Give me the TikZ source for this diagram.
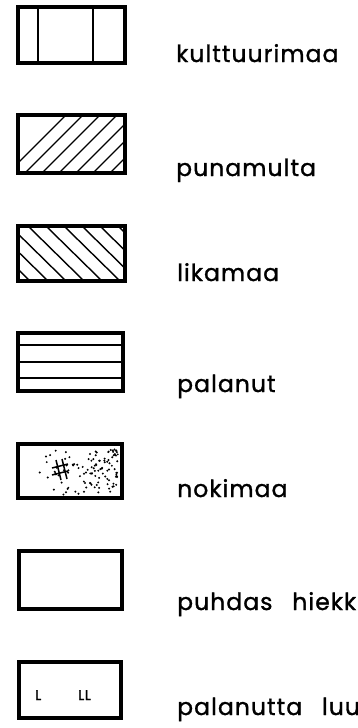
\documentclass[tikz,border=0pt]{standalone}
\usepackage{fontspec}
\setmainfont{Poppins}[LetterSpace=4.5,FakeBold=1.2,WordSpace=2.7]
\begin{document}
\begin{tikzpicture}[x=1pt,y=-1pt,
  frame/.style={line width=3.2pt,line join=miter},
  hatch/.style={line width=1.4pt},
  lbl/.style={anchor=base west,inner sep=0pt,font=\fontsize{23.5}{23.5}\selectfont},
  small/.style={anchor=base west,inner sep=0pt,font=\fontsize{14}{14}\selectfont}]
\useasboundingbox[fill=white] (0,0) rectangle (358,728);
\clip (0,0) rectangle (358,728);
% 1 kulttuurimaa
\draw[hatch] (38,7) -- (38,63) (93,7) -- (93,63);
\draw[frame] (18,7) rectangle (125,63);
\node[lbl] (t1) at (176,62) {kulttuurimaa};
% 2 punamulta
\begin{scope}
\clip (18,115) rectangle (125,173);
\foreach \i in {0,...,10}{
  \draw[hatch] ({8+17*\i},173) -- ({8+17*\i+58},115);
}
\end{scope}
\draw[frame] (18,115) rectangle (125,173);
\node[lbl] (t2) at (176,176) {punamulta};
% 3 likamaa
\begin{scope}
\clip (18,226) rectangle (125,281);
\foreach \i in {-4,...,6}{
  \draw[hatch] ({28+18*\i},226) -- ({28+18*\i+56},281);
}
\end{scope}
\draw[frame] (18,226) rectangle (125,281);
\node[lbl] (t3) at (177,281) {likamaa};
% 4 palanut
\draw[hatch] (18,345) -- (123,345) (18,362) -- (123,362) (18,378) -- (123,378);
\draw[frame] (18,333) rectangle (123,391);
\node[lbl] (t4) at (177,392) {palanut};
% 5 nokimaa
\pgfmathsetseed{12345}
\foreach \k in {1,...,115}{
  \pgfmathsetmacro{\rx}{23+95*sqrt(rnd)}
  \pgfmathsetmacro{\ry}{449+46*rnd}
  \fill (\rx,\ry) circle (1.1pt);
}
\draw[line width=1.5pt] (52,468) -- (68,464) (52,475) -- (68,471)
  (56,460) -- (61,480) (62,459) -- (67,479);
\draw[frame] (18,444) rectangle (122,498);
\node[lbl] (t5) at (177,497) {nokimaa};
% 6 puhdas hiekka
\draw[frame] (19,551) rectangle (122,609);
\node[lbl] (t6) at (177,610) {puhdas hiekka};
% 7 palanutta luuta
\draw[frame] (19,662) rectangle (121,718);
\node[small] (l1) at (35,700) {L};
\node[small] (l2) at (78,700) {LL};
\node[lbl] (t7) at (177,715) {palanutta luuta};
\end{tikzpicture}
\end{document}
